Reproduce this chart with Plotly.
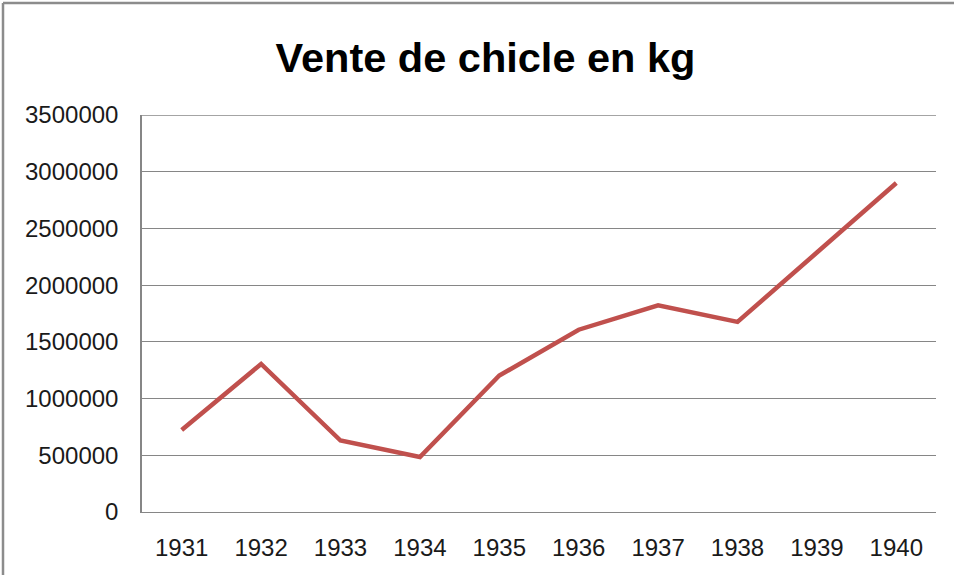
import plotly.graph_objects as go

years = ["1931", "1932", "1933", "1934", "1935", "1936", "1937", "1938", "1939", "1940"]
sales_kg = [722000, 1305000, 630000, 485000, 1203000, 1607000, 1822000, 1676000, 2288000, 2900000]
y_ticks = [0, 500000, 1000000, 1500000, 2000000, 2500000, 3000000, 3500000]
y_tick_labels = [str(v) for v in y_ticks]

W, H = 954, 575
L, R, T, B = 142, 18, 115, 63
pw, ph = W - L - R, H - T - B

fig = go.Figure()
fig.add_trace(go.Scatter(
    x=years, y=sales_kg, mode="lines",
    line=dict(color="#C0504D", width=4.5),
    hoverinfo="x+y", showlegend=False,
))

font_family = "Liberation Sans, Arial, sans-serif"
fig.update_layout(
    width=W, height=H,
    margin=dict(l=L, r=R, t=T, b=B, autoexpand=False),
    paper_bgcolor="white", plot_bgcolor="white",
    title=dict(
        text="<b>Vente de chicle en kg</b>",
        x=485.5 / W, xref="container", xanchor="center",
        y=1 - 57 / H, yref="container", yanchor="middle",
        font=dict(family=font_family, size=41.5, color="black"),
    ),
    xaxis=dict(
        type="category", range=[-0.5, 9.5],
        showgrid=False, showline=True, linecolor="#868686", linewidth=1,
        ticks="", tickfont=dict(family=font_family, size=24, color="#1a1a1a"),
        ticklabelstandoff=14, zeroline=False, fixedrange=True,
    ),
    yaxis=dict(
        range=[0, 3500000], tickvals=y_ticks, ticktext=y_tick_labels,
        showgrid=True, gridcolor="#868686", gridwidth=1,
        showline=True, linecolor="#868686", linewidth=1.5,
        zeroline=False, ticks="",
        tickfont=dict(family=font_family, size=24, color="#1a1a1a"),
        ticklabelstandoff=17, fixedrange=True,
    ),
)

# top gridline at the maximum tick
fig.add_shape(type="line", xref="paper", yref="y",
              x0=0, x1=1, y0=y_ticks[-1], y1=y_ticks[-1],
              line=dict(color="#868686", width=1.5), layer="below")

# outer frame (top and left edges visible in the reference)
bx = (3 - L) / pw
by = (H - B - 3) / ph
fig.add_shape(type="line", xref="paper", yref="paper",
              x0=bx, x1=(W - L + 5) / pw, y0=by, y1=by,
              line=dict(color="#8c8c8c", width=2.5))
fig.add_shape(type="line", xref="paper", yref="paper",
              x0=bx, x1=bx, y0=by, y1=-(B + 5) / ph,
              line=dict(color="#8c8c8c", width=2.5))

fig.write_html("out.html", config={"displayModeBar": False},
               post_script="document.body.style.margin='0';document.body.style.overflow='hidden';")
